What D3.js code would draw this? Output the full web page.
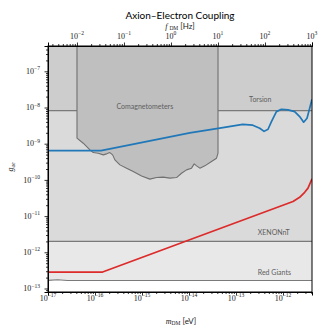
<!DOCTYPE html>
<html>
<head>
<meta charset="utf-8">
<script src="https://cdn.jsdelivr.net/npm/d3@7"></script>
<style>
  body { margin: 0; background: #fff; }
  .region_label { font-family: Lato, sans-serif; font-size: 7px; fill: #5e5e5e; }
  .tick_label { font-family: "Liberation Serif", serif; font-size: 8px; fill: #222; }
</style>
</head>
<body>
<div class="wrapper"></div>
<script>
var H_EV = 4.135667e-15; // eV per Hz

// axis limits
var massMin = 1e-17, massMax = 1e3 * H_EV;
var gMin = 8e-14, gMax = 5e-7;

// tick values
var massTicks = [1e-17, 1e-16, 1e-15, 1e-14, 1e-13, 1e-12];
var freqTicks = [1e-2, 1e-1, 1e0, 1e1, 1e2, 1e3];
var gTicks = [1e-13, 1e-12, 1e-11, 1e-10, 1e-9, 1e-8, 1e-7];

// flat limits
var torsionG = 8.2e-9;
var xenonG = 2e-12;
var redGiantMass = [1e-17, 1.6e-17, 2.6e-17, 4.14e-12];
var redGiantG = [1.68e-13, 1.74e-13, 1.66e-13, 1.66e-13];

// comagnetometer band, between 10 mHz and 10 Hz
var comagFreq = [1e-2, 10];
var comagMass = [4.14e-17, 5.62e-17, 7.80e-17, 9.18e-17, 1.17e-16, 1.50e-16, 1.77e-16, 2.07e-16,
                 2.37e-16, 2.65e-16, 3.39e-16, 4.70e-16, 6.50e-16, 9.79e-16, 1.47e-15, 2.04e-15,
                 2.82e-15, 3.91e-15, 5.43e-15, 6.93e-15, 8.85e-15, 1.13e-14, 1.29e-14, 1.45e-14,
                 1.70e-14, 2.17e-14, 3.01e-14, 3.85e-14, 4.14e-14];
var comagG = [1.42e-9, 1.03e-9, 6.75e-10, 5.69e-10, 5.47e-10, 4.91e-10, 5.24e-10, 5.69e-10,
              4.91e-10, 3.57e-10, 2.60e-10, 2.11e-10, 1.70e-10, 1.29e-10, 1.05e-10, 1.16e-10,
              1.19e-10, 1.12e-10, 1.16e-10, 1.53e-10, 1.89e-10, 2.11e-10, 2.77e-10, 2.44e-10,
              2.11e-10, 2.44e-10, 3.21e-10, 3.98e-10, 5.47e-10];

// projections
var blueMass = [1e-17, 1.34e-16, 2.07e-16, 5.52e-16, 2.40e-15, 1.04e-14, 4.52e-14, 1.39e-13,
                2.27e-13, 3.20e-13, 3.95e-13, 4.80e-13, 5.67e-13, 7.24e-13, 9.25e-13, 1.28e-12,
                1.77e-12, 2.26e-12, 2.75e-12, 3.24e-12, 3.69e-12, 4.14e-12];
var blueG = [6.46e-10, 6.46e-10, 7.19e-10, 9.27e-10, 1.36e-9, 1.99e-9, 2.68e-9, 3.41e-9,
             3.24e-9, 2.68e-9, 2.19e-9, 2.51e-9, 4.07e-9, 7.69e-9, 8.95e-9, 8.57e-9,
             7.69e-9, 5.60e-9, 3.93e-9, 5.06e-9, 9.55e-9, 1.69e-8];

var redMass = [1e-17, 1.45e-16, 1.63e-12, 2.26e-12, 2.89e-12, 3.40e-12, 3.88e-12, 4.14e-12];
var redG = [2.85e-13, 2.85e-13, 2.53e-11, 3.30e-11, 4.54e-11, 5.93e-11, 8.83e-11, 1.07e-10];

var width = 329, height = 329;
var pLeft = 48, pRight = 312, pTop = 46, pBottom = 292;

var svg = d3.select(".wrapper").append("svg")
    .attr("width", width)
    .attr("height", height);

var x = d3.scaleLog().domain([massMin, massMax]).range([pLeft, pRight]);
var xTop = d3.scaleLog().domain([massMin / H_EV, massMax / H_EV]).range([pLeft, pRight]);
var y = d3.scaleLog().domain([gMin, gMax]).range([pBottom, pTop]);

svg.append("clipPath").attr("id", "plot")
    .append("rect").attr("x", pLeft).attr("y", pTop)
    .attr("width", pRight - pLeft).attr("height", pBottom - pTop);

var plot = svg.append("g").attr("clip-path", "url(#plot)");

function zip(ms, gs) { return ms.map(function(m, i) { return [m, gs[i]]; }); }

var areaUp = d3.area()
    .x(function(d) { return x(d[0]); })
    .y0(y(gMax) - 5)
    .y1(function(d) { return y(d[1]); });

var line = d3.line()
    .x(function(d) { return x(d[0]); })
    .y(function(d) { return y(d[1]); });

// red giants region
var rg = zip(redGiantMass, redGiantG);
plot.append("path").datum(rg).attr("d", areaUp).attr("fill", "#e8e8e8");

// XENONnT region
var xe = [[massMin, xenonG], [massMax, xenonG]];
plot.append("path").datum(xe).attr("d", areaUp).attr("fill", "#dadada");

// torsion region
var tor = [[massMin, torsionG], [massMax, torsionG]];
plot.append("path").datum(tor).attr("d", areaUp).attr("fill", "#cdcdcd");

[rg, xe, tor].forEach(function(d) {
    plot.append("path").datum(d).attr("d", line)
        .attr("fill", "none").attr("stroke", "#7a7a7a").attr("stroke-width", 1.1);
});

// comagnetometers
var comag = [[comagFreq[0] * H_EV, gMax * 3]]
    .concat(zip(comagMass, comagG))
    .concat([[comagFreq[1] * H_EV, gMax * 3]]);
plot.append("path").datum(comag).attr("d", line)
    .attr("fill", "#bfbfbf").attr("stroke", "#707070").attr("stroke-width", 1.1)
    .attr("stroke-linejoin", "round");

// region labels
svg.append("text").attr("class", "region_label")
    .attr("x", x(1.15e-15)).attr("y", y(9e-9)).attr("text-anchor", "middle")
    .text("Comagnetometers");
svg.append("text").attr("class", "region_label")
    .attr("x", x(1.9e-13)).attr("y", y(torsionG) - 9)
    .text("Torsion");
svg.append("text").attr("class", "region_label")
    .attr("x", x(2.9e-13)).attr("y", y(xenonG) - 6)
    .text("XENONnT");
svg.append("text").attr("class", "region_label")
    .attr("x", x(2.9e-13)).attr("y", y(redGiantG[3]) - 5.5)
    .text("Red Giants");

// projections
plot.append("path").datum(zip(blueMass, blueG)).attr("d", line)
    .attr("fill", "none").attr("stroke", "#2078b8").attr("stroke-width", 1.7)
    .attr("stroke-linejoin", "round");
plot.append("path").datum(zip(redMass, redG)).attr("d", line)
    .attr("fill", "none").attr("stroke", "#dd2a2a").attr("stroke-width", 1.7)
    .attr("stroke-linejoin", "round");

// ticks
function minorTicks(lo, hi) {
    var out = [];
    for (var k = Math.floor(Math.log10(lo)); k <= Math.ceil(Math.log10(hi)); k++) {
        for (var i = 2; i < 10; i++) {
            var v = i * Math.pow(10, k);
            if (v >= lo && v <= hi) out.push(v);
        }
    }
    return out;
}

function power(sel) {
    sel.each(function(v) {
        var e = Math.round(Math.log10(v));
        var t = d3.select(this).text(null);
        t.append("tspan").text("10");
        t.append("tspan").attr("dy", -3.6).attr("font-size", 5.6)
            .text(String(e).replace("-", "\u2212"));
    });
}

function drawAxis(axisFn, scale, majors, g) {
    var lo = scale.domain()[0], hi = scale.domain()[1];
    g.call(axisFn(scale).tickValues(minorTicks(lo, hi)).tickSize(2).tickFormat(""));
    g.append("g").call(axisFn(scale).tickValues(majors).tickSize(3.5).tickFormat(""));
    g.selectAll("path.domain").attr("stroke", "#000");
    g.selectAll(".tick line").attr("stroke", "#000").attr("stroke-width", 0.8);
}

var gx = svg.append("g").attr("transform", "translate(0," + pBottom + ")");
drawAxis(d3.axisBottom, x, massTicks, gx);
gx.selectAll("text.tl").data(massTicks).enter().append("text")
    .attr("class", "tick_label").attr("text-anchor", "middle")
    .attr("x", function(d) { return x(d); }).attr("y", 9)
    .call(power);

var gt = svg.append("g").attr("transform", "translate(0," + pTop + ")");
drawAxis(d3.axisTop, xTop, freqTicks, gt);
gt.selectAll("text.tl").data(freqTicks).enter().append("text")
    .attr("class", "tick_label").attr("text-anchor", "middle")
    .attr("x", function(d) { return xTop(d); }).attr("y", -7.5)
    .call(power);

var gy = svg.append("g").attr("transform", "translate(" + pLeft + ",0)");
drawAxis(d3.axisLeft, y, gTicks, gy);
gy.selectAll("text.tl").data(gTicks).enter().append("text")
    .attr("class", "tick_label").attr("text-anchor", "end")
    .attr("x", -8).attr("y", function(d) { return y(d) + 2.7; })
    .call(power);

svg.append("rect").attr("x", pLeft).attr("y", pTop)
    .attr("width", pRight - pLeft).attr("height", pBottom - pTop)
    .attr("fill", "none").attr("stroke", "#000").attr("stroke-width", 1);

// titles
svg.append("text").attr("x", 180).attr("y", 18.5).attr("text-anchor", "middle")
    .style("font-family", "Lato, sans-serif").style("font-size", "10px")
    .text("Axion\u2013Electron Coupling");

var ft = svg.append("text").attr("x", 180).attr("y", 28.5).attr("text-anchor", "middle")
    .style("font-size", "8px").style("fill", "#222");
ft.append("tspan").style("font-family", "Liberation Serif, serif").style("font-style", "italic").text("f");
ft.append("tspan").style("font-family", "Liberation Serif, serif").attr("dx", 1.8).attr("dy", 1.2).style("font-size", "5.5px").text("DM");
ft.append("tspan").style("font-family", "Lato, sans-serif").attr("dy", -1.2).text(" [Hz]");

var mt = svg.append("text").attr("x", 181).attr("y", 323.5).attr("text-anchor", "middle")
    .style("font-size", "8px").style("fill", "#222");
mt.append("tspan").style("font-family", "Liberation Serif, serif").style("font-style", "italic").text("m");
mt.append("tspan").style("font-family", "Liberation Serif, serif").attr("dy", 1.5).style("font-size", "5.5px").text("DM");
mt.append("tspan").style("font-family", "Lato, sans-serif").attr("dy", -1.5).text(" [eV]");

var yt = svg.append("text").attr("transform", "translate(13,167) rotate(-90)")
    .attr("text-anchor", "middle").style("font-size", "8px").style("fill", "#222")
    .style("font-family", "Liberation Serif, serif").style("font-style", "italic");
yt.append("tspan").text("g");
yt.append("tspan").attr("dy", 1.5).style("font-size", "5.5px").text("ae");
</script>
</body>
</html>
